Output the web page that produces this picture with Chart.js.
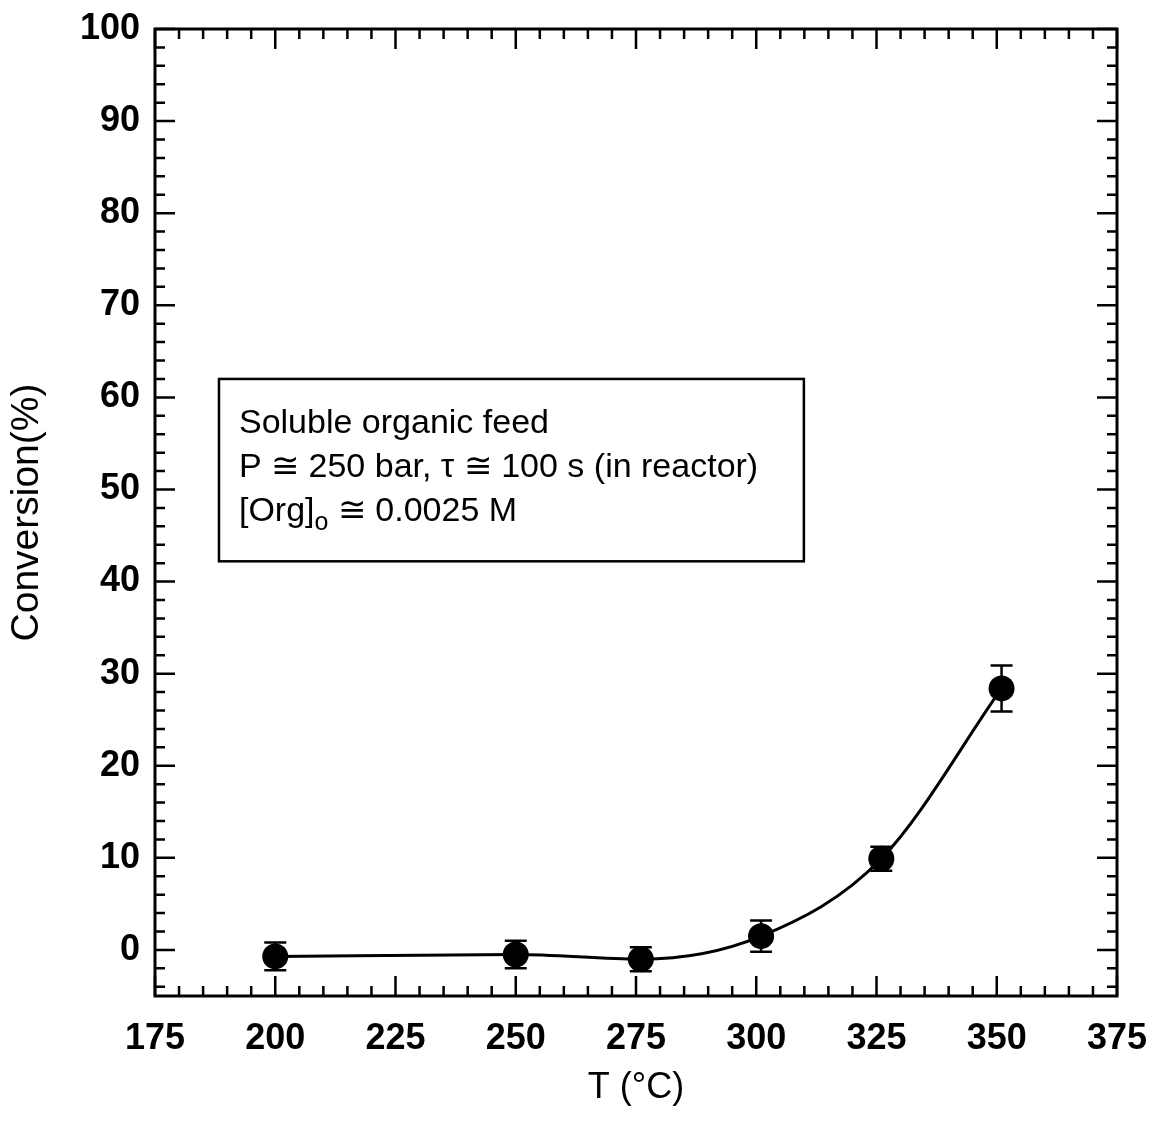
<!DOCTYPE html>
<html>
<head>
<meta charset="utf-8">
<script src="https://cdn.jsdelivr.net/npm/chart.js@4.4.1/dist/chart.umd.min.js"></script>
<style>
  html, body { margin: 0; padding: 0; background: #fff; }
  canvas { display: block; }
</style>
</head>
<body>
<canvas id="chart" width="1152" height="1126" style="width:1152px;height:1126px"></canvas>
<script>
// Temperature (°C) and measured conversion (%) with symmetric uncertainty
const temperature = [200, 250, 276, 301, 326, 351];
const conversion  = [-0.7, -0.5, -1.0, 1.5, 9.9, 28.4];
const errorBar    = [1.5, 1.5, 1.3, 1.7, 1.3, 2.5];

// Labelled tick values on each axis
const xTickValues = [175, 200, 225, 250, 275, 300, 325, 350, 375];
const yTickValues = [0, 10, 20, 30, 40, 50, 60, 70, 80, 90, 100];

// Text of the conditions box
const boxLines = [
  'Soluble organic feed',
  'P \u2245 250 bar, \u03C4 \u2245 100 s (in reactor)'
];
const concLine = { pre: '[Org]', sub: 'o', post: ' \u2245 0.0025 M' };

const FONT = '"Liberation Sans", Arial, Helvetica, sans-serif';

// Vertical error bars with caps, drawn under the markers
const errorBarPlugin = {
  id: 'errorBars',
  beforeDatasetsDraw(chart) {
    const { ctx, scales: { x, y } } = chart;
    ctx.save();
    ctx.strokeStyle = '#000';
    ctx.lineWidth = 2.5;
    temperature.forEach((t, i) => {
      const px = x.getPixelForValue(t);
      const top = y.getPixelForValue(conversion[i] + errorBar[i]);
      const bot = y.getPixelForValue(conversion[i] - errorBar[i]);
      ctx.beginPath();
      ctx.moveTo(px, top); ctx.lineTo(px, bot);
      ctx.moveTo(px - 11, top); ctx.lineTo(px + 11, top);
      ctx.moveTo(px - 11, bot); ctx.lineTo(px + 11, bot);
      ctx.stroke();
    });
    ctx.restore();
  }
};

// Closed frame with inward major/minor ticks on all four sides
const framePlugin = {
  id: 'frame',
  afterDatasetsDraw(chart) {
    const { ctx, chartArea: a, scales: { x, y } } = chart;
    ctx.save();
    ctx.strokeStyle = '#000';
    ctx.lineWidth = 2.5;
    ctx.beginPath();
    for (let v = x.min; v <= x.max + 1e-9; v += 5) {
      const px = x.getPixelForValue(v);
      const len = (v % 25 === 0) ? 20 : 10;
      ctx.moveTo(px, a.bottom); ctx.lineTo(px, a.bottom - len);
      ctx.moveTo(px, a.top); ctx.lineTo(px, a.top + len);
    }
    for (let v = -4; v <= y.max + 1e-9; v += 2) {
      const py = y.getPixelForValue(v);
      const len = (v % 10 === 0) ? 20 : 10;
      ctx.moveTo(a.left, py); ctx.lineTo(a.left + len, py);
      ctx.moveTo(a.right, py); ctx.lineTo(a.right - len, py);
    }
    ctx.stroke();
    ctx.lineWidth = 3;
    ctx.strokeRect(a.left, a.top, a.right - a.left, a.bottom - a.top);
    ctx.restore();
  }
};

// Boxed annotation listing the run conditions
const conditionsPlugin = {
  id: 'conditions',
  afterDraw(chart) {
    const { ctx, scales: { x, y } } = chart;
    const left = x.getPixelForValue(188.3);
    const right = x.getPixelForValue(309.9);
    const top = y.getPixelForValue(62.0);
    const bottom = y.getPixelForValue(42.2);
    ctx.save();
    ctx.strokeStyle = '#000';
    ctx.lineWidth = 2.5;
    ctx.strokeRect(left, top, right - left, bottom - top);
    ctx.fillStyle = '#000';
    ctx.textBaseline = 'alphabetic';
    ctx.textAlign = 'left';
    ctx.font = '34px ' + FONT;
    const tx = left + 20;
    boxLines.forEach((line, i) => ctx.fillText(line, tx, top + 54 + i * 44));
    const by = top + 54 + 2 * 44;
    ctx.fillText(concLine.pre, tx, by);
    let cx = tx + ctx.measureText(concLine.pre).width;
    ctx.font = '25px ' + FONT;
    ctx.fillText(concLine.sub, cx, by + 9);
    cx += ctx.measureText(concLine.sub).width;
    ctx.font = '34px ' + FONT;
    ctx.fillText(concLine.post, cx, by);
    ctx.restore();
  }
};

new Chart(document.getElementById('chart'), {
  type: 'line',
  data: {
    datasets: [{
      data: temperature.map((t, i) => ({ x: t, y: conversion[i] })),
      borderColor: '#000',
      borderWidth: 3,
      backgroundColor: '#000',
      pointBackgroundColor: '#000',
      pointBorderColor: '#000',
      pointRadius: 13,
      pointBorderWidth: 0,
      cubicInterpolationMode: 'monotone',
      fill: false
    }]
  },
  options: {
    responsive: false,
    animation: false,
    devicePixelRatio: 1,
    layout: { padding: { top: 29, right: 35, left: 0, bottom: 0 } },
    plugins: { legend: { display: false }, tooltip: { enabled: false } },
    scales: {
      x: {
        type: 'linear',
        min: 175,
        max: 375,
        grid: { display: false, drawTicks: false },
        border: { display: false },
        afterBuildTicks: s => { s.ticks = xTickValues.map(v => ({ value: v })); },
        afterFit: s => { s.height = 130; s.paddingLeft = 0; s.paddingRight = 0; },
        ticks: {
          color: '#000',
          font: { family: FONT, size: 36, weight: 'bold' },
          padding: 21,
          maxRotation: 0,
          autoSkip: false
        },
        title: {
          display: true,
          text: 'T (\u00B0C)',
          color: '#000',
          font: { family: FONT, size: 36 },
          padding: { top: 0, bottom: 16 }
        }
      },
      y: {
        type: 'linear',
        min: -5,
        max: 100,
        grid: { display: false, drawTicks: false },
        border: { display: false },
        afterBuildTicks: s => { s.ticks = yTickValues.map(v => ({ value: v })); },
        afterFit: s => { s.width = 155; s.paddingTop = 0; s.paddingBottom = 0; },
        ticks: {
          color: '#000',
          font: { family: FONT, size: 36, weight: 'bold' },
          padding: 15,
          autoSkip: false
        },
        title: {
          display: true,
          text: 'Conversion(%)',
          color: '#000',
          font: { family: FONT, size: 39 },
          padding: { top: 4, bottom: 0 }
        }
      }
    }
  },
  plugins: [errorBarPlugin, framePlugin, conditionsPlugin]
});
</script>
</body>
</html>
